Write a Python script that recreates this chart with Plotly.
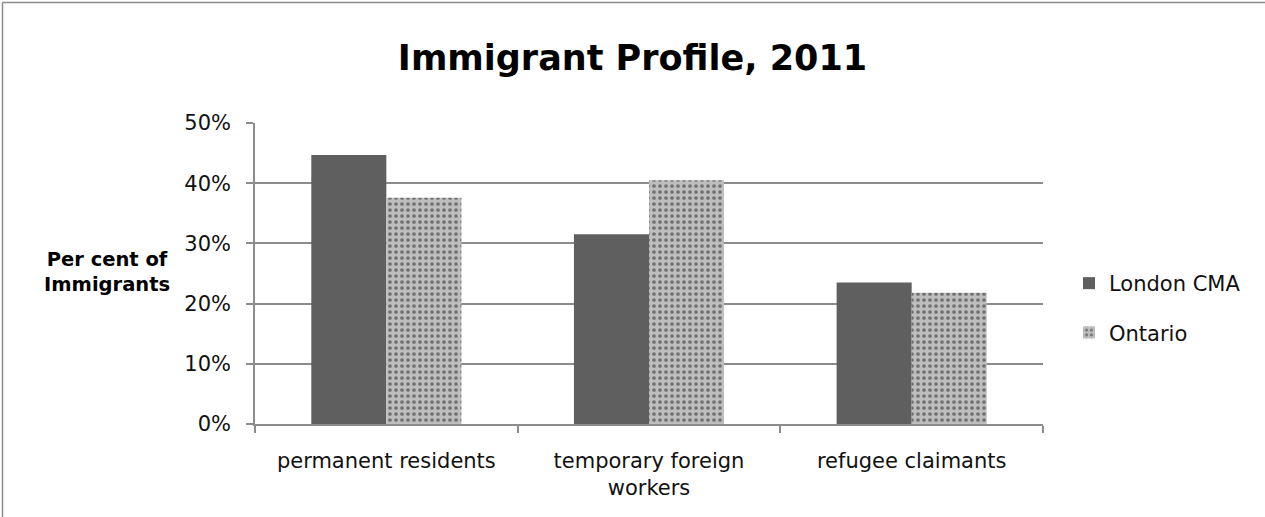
import plotly.graph_objects as go

# Share of immigrants by category, 2011
categories = ["permanent residents", "temporary foreign<br>workers", "refugee claimants"]
london_cma = [0.447, 0.315, 0.235]
ontario = [0.376, 0.405, 0.218]
y_ticks = [0, 0.1, 0.2, 0.3, 0.4, 0.5]
y_tick_labels = ["0%", "10%", "20%", "30%", "40%", "50%"]

W, H = 1265, 517
ML, MR, MT, MB = 255, 222, 123, 93
PW, PH = W - ML - MR, H - MT - MB

FONT = "DejaVu Sans"
GRID = "#8c8c8c"

fig = go.Figure()
fig.add_trace(go.Bar(
    x=categories, y=london_cma, name="London CMA",
    marker=dict(color="#5f5f5f", line=dict(width=0)),
    legendgroup="a",
))
fig.add_trace(go.Bar(
    x=categories, y=ontario, name="Ontario",
    marker=dict(
        color="#b0b0b0", line=dict(width=0),
        pattern=dict(shape=".", fgcolor="#707070", bgcolor="#bebebe",
                     size=6, solidity=0.3, fillmode="replace"),
    ),
    legendgroup="b",
))


def px_x(px):
    return (px - ML) / PW


def px_y(py):
    return (H - MB - py) / PH


fig.update_layout(
    width=W, height=H,
    margin=dict(l=ML, r=MR, t=MT, b=MB, pad=0),
    paper_bgcolor="white", plot_bgcolor="white",
    barmode="group", bargap=1.5 / 3.5, bargroupgap=0,
    font=dict(family=FONT, size=21, color="#111"),
    title=dict(text="<b>Immigrant Profile, 2011</b>", x=0.5, xanchor="center",
               y=1 - 58 / H, yanchor="middle",
               font=dict(family=FONT, size=35, color="#000")),
    showlegend=True,
    legend=dict(x=px_x(1069), xanchor="left", y=px_y(308), yanchor="middle",
                traceorder="grouped", tracegroupgap=19,
                font=dict(family=FONT, size=21, color="#111"),
                bgcolor="rgba(0,0,0,0)"),
    xaxis=dict(
        showgrid=False, showline=True, linecolor=GRID, linewidth=1.5,
        ticks="outside", tickson="boundaries", ticklen=7, tickcolor=GRID, tickwidth=1.5,
        ticklabelstandoff=17,
        tickfont=dict(family=FONT, size=21, color="#111"),
    ),
    yaxis=dict(
        range=[0, 0.5], tickvals=y_ticks, ticktext=y_tick_labels,
        showgrid=True, gridcolor=GRID, gridwidth=1.5,
        showline=True, linecolor=GRID, linewidth=1.5,
        ticks="outside", ticklen=7, tickcolor=GRID, tickwidth=1.5,
        ticklabelstandoff=11,
        tickfont=dict(family=FONT, size=21, color="#111"),
        zeroline=False,
    ),
    annotations=[dict(
        text="<b>Per cent of<br>Immigrants</b>", xref="paper", yref="paper",
        x=px_x(107), y=px_y(272), xanchor="center", yanchor="middle",
        showarrow=False, align="center",
        font=dict(family=FONT, size=19.5, color="#000"),
    )],
    shapes=[
        # chart frame: top and left edges
        dict(type="line", xref="paper", yref="paper",
             x0=px_x(2.5), x1=px_x(W), y0=px_y(2.5), y1=px_y(2.5),
             line=dict(color="#8a8a8a", width=1.5)),
        dict(type="line", xref="paper", yref="paper",
             x0=px_x(2.5), x1=px_x(2.5), y0=px_y(2.5), y1=px_y(H),
             line=dict(color="#8a8a8a", width=1.5)),
    ],
)

fig.write_html("out.html")
